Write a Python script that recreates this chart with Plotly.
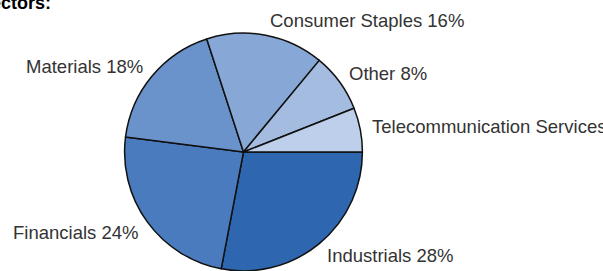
import math
import plotly.graph_objects as go

sectors = ["Industrials", "Financials", "Materials", "Consumer Staples", "Other", "Telecommunication Services"]
weights = [28, 24, 18, 16, 8, 6]
colors = ["#2E66B0", "#4A7BBF", "#6A93CB", "#87A8D6", "#A3BCE0", "#BDCFEA"]
title_text = "Sectors:"

W, H = 603, 271
# pie domain (paper fractions)
dom_x = [0.2066, 0.6010]
dom_y = [0.0, 0.8782]

fig = go.Figure(go.Pie(
    labels=sectors,
    values=weights,
    sort=False,
    direction="clockwise",
    rotation=90,
    marker=dict(colors=colors, line=dict(color="#111111", width=1.5)),
    textinfo="none",
    domain=dict(x=dom_x, y=dom_y),
    showlegend=False,
    hoverinfo="label+percent",
))

# outside labels placed at each slice's mid-angle (derived from the weights)
cx = (dom_x[0] + dom_x[1]) / 2 * W
cy = (dom_y[0] + dom_y[1]) / 2 * H
r = min((dom_x[1] - dom_x[0]) * W, (dom_y[1] - dom_y[0]) * H) / 2
total = sum(weights)
cum = 0
for name, w in zip(sectors, weights):
    mid = (cum + w / 2) / total * 2 * math.pi  # clockwise from 3 o'clock
    cum += w
    c, s = math.cos(mid), math.sin(mid)
    px = cx + 1.08 * r * c
    py = cy - (1.15 if s < 0.7 and s > 0 else 1.13) * r * s
    fig.add_annotation(
        text=f"{name} {w}%",
        xref="paper", yref="paper", x=px / W, y=py / H,
        xanchor="left" if c > 0 else "right", yanchor="middle",
        showarrow=False,
        font=dict(family="Liberation Sans, Arial, sans-serif", size=18.5, color="#333333"),
    )

fig.add_annotation(
    text="<b>" + title_text + "</b>",
    xref="paper", yref="paper", x=53 / W, y=1.0,
    xanchor="right", yanchor="middle", yshift=-3,
    showarrow=False,
    font=dict(family="Liberation Sans, Arial, sans-serif", size=18, color="#000000"),
)

fig.update_layout(
    width=W, height=H,
    margin=dict(l=0, r=0, t=0, b=0),
    paper_bgcolor="white", plot_bgcolor="white",
)

fig.write_html("out.html", config={"displayModeBar": False},
               post_script="document.body.style.margin='0';")
